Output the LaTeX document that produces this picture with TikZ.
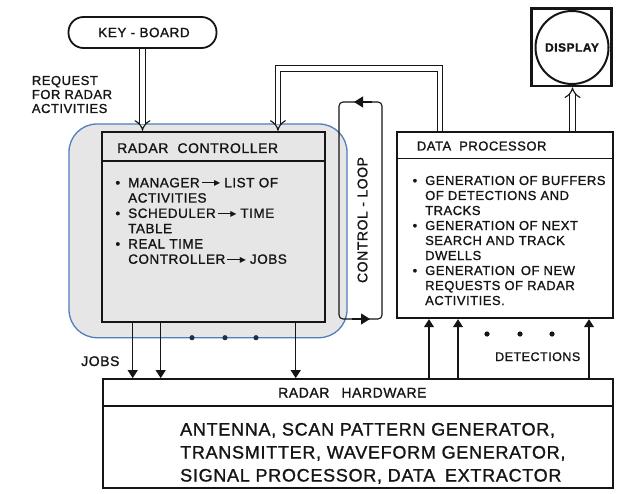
\documentclass[tikz,border=0pt]{standalone}
\usepackage{fontspec}
\setmainfont{Liberation Sans}[LetterSpace=4,FakeBold=1.2]
\newfontfamily\dejavu{DejaVu Sans}
\usetikzlibrary{arrows.meta}
\definecolor{hlblue}{HTML}{4F7FBF}
\definecolor{hlgray}{HTML}{E6E6E7}
\definecolor{dotblue}{HTML}{1F2F4F}
\definecolor{ink}{HTML}{151515}
\newcommand\bul{\makebox[0pt][r]{\textbullet\hspace{8pt}}}
\newcommand\larr{\hspace{2pt}\rule[0.3em]{14pt}{1.1pt}\kern-1.5pt\raisebox{0.12em}{\dejavu\fontsize{8}{8}\selectfont ▶}\hspace{4pt}}
\newcommand\fs[1]{\fontsize{#1}{#1}\selectfont}
\begin{document}
\begin{tikzpicture}[x=1pt,y=-1pt,
  box/.style={draw=ink, line width=1.8pt, inner sep=0pt},
  conn/.style={draw=ink, line width=1.1pt, -{Triangle[width=10pt,length=8pt]}},
  looptip/.style={draw=ink, line width=1.1pt, -{Triangle[width=11pt,length=9pt]}},
  dbl/.style={draw=ink, double=white, double distance=4.5pt, line width=1.1pt, -{Implies}},
  lab/.style={inner sep=0pt, anchor=base west, text=ink},
  divline/.style={draw=ink, line width=1.5pt},
]
\fill[white] (0,0) rectangle (617,494);
\path[use as bounding box] (0,0) rectangle (617,494);

% keyboard
\node[box, rounded corners=15pt, minimum width=148pt, minimum height=31pt,
      font=\fs{13.5}, text=ink] (kb) at (142.5,32.5) {\hspace{3pt}KEY - BOARD};

% request text
\node[lab, font=\fs{13}] (rq1) at (31.7,85) {REQUEST};
\node[lab, font=\fs{13}] (rq2) at (31.7,99) {FOR RADAR};
\node[lab, font=\fs{13}] (rq3) at (31.7,113) {ACTIVITIES};

% highlight
\node[draw=hlblue, fill=hlgray, line width=1.3pt, rounded corners=28pt,
      minimum width=278pt, minimum height=213.7pt, inner sep=0pt] (hl) at (208,230.85) {};

% radar controller
\node[box, minimum width=223.3pt, minimum height=190.3pt] (rc) at (213.35,226.85) {};
\draw[divline] ([yshift=-30pt]rc.north west) -- ([yshift=-30pt]rc.north east);
\node[lab, font=\fs{14}] (rct) at (117,153) {RADAR\hspace{9pt}CONTROLLER};
\foreach \t [count=\i from 0] in {{\bul MANAGER\larr LIST OF},{ACTIVITIES},{\bul SCHEDULER\larr TIME},{TABLE},{\bul REAL TIME},{CONTROLLER\larr JOBS}}
  \node[lab, font=\fs{13.5}] (ct\i) at (128,{187.3+15.3*\i}) {\t};

% data processor
\node[box, fill=white, minimum width=216.6pt, minimum height=186.6pt] (dp) at (505,225) {};
\draw[divline] ([yshift=-27.6pt]dp.north west) -- ([yshift=-27.6pt]dp.north east);
\node[lab, font=\fs{13}] (dpt) at (416.7,150.5) {DATA\hspace{8pt}PROCESSOR};
\foreach \t [count=\i from 0] in {{\bul GENERATION OF BUFFERS},{OF DETECTIONS AND},{TRACKS},{\bul GENERATION OF NEXT},{SEARCH AND TRACK},{DWELLS},{\bul GENERATION\hspace{6pt}OF NEW},{REQUESTS OF RADAR},{ACTIVITIES.}}
  \node[lab, font=\fs{13}] (dt\i) at (425,{185+15*\i}) {\t};

% radar hardware
\node[box, fill=white, minimum width=510pt, minimum height=109pt] (rh) at (358,433.5) {};
\draw[divline] ([yshift=-28pt]rh.north west) -- ([yshift=-28pt]rh.north east);
\node[lab, font=\fs{14}] (rht) at (278,397.5) {RADAR\hspace{12pt}HARDWARE};
\foreach \t [count=\i from 0] in {{ANTENNA, SCAN PATTERN GENERATOR,},{TRANSMITTER, WAVEFORM GENERATOR,},{SIGNAL PROCESSOR, DATA\hspace{4pt} EXTRACTOR}}
  \node[lab, font=\fs{18}] (hw\i) at (180,{435.5+23*\i}) {\t};

% display
\node[box, line width=2.7pt, minimum width=80pt, minimum height=77.7pt] (dsq) at (571.7,47.15) {};
\node[draw=ink, circle, line width=2pt, minimum size=73pt, inner sep=0pt,
      font=\bfseries\fs{12}, text=ink] (dc) at (572,47.5) {DISPLAY};

% double arrows
\draw[dbl] (kb.south) -- (kb.south |- rc.north);
\coordinate (pa) at ([xshift=-65pt]dp.north);
\coordinate (pb) at ([xshift=64.6pt]rc.north);
\coordinate (ptop) at (0,68.5);
\draw[dbl] (pa) -- (pa |- ptop) -- (pb |- ptop) -- (pb);
\coordinate (pc) at ([xshift=67.5pt]dp.north);
\draw[dbl] (pc) -- (pc |- dsq.south);

% control loop
\coordinate (la) at (382,319);
\coordinate (lb) at (382,102);
\coordinate (lc) at (339,102);
\coordinate (ld) at (339,319);
\draw[draw=ink, line width=1.1pt, rounded corners=4pt]
  (la) -- (lb) -- (lc) -- (ld) -- cycle;
\coordinate (lt1) at (372,102);
\coordinate (lt2) at (354,102);
\coordinate (lb1) at (352,319);
\coordinate (lb2) at (370,319);
\draw[looptip] (lt1) -- (lt2);
\draw[looptip] (lb1) -- (lb2);
\node[font=\fs{14}, text=ink, rotate=90, inner sep=0pt] (cl) at (362.5,220) {CONTROL - LOOP};

% jobs arrows
\foreach \x [count=\i] in {132.7,160.7,295.7} {
  \coordinate (j\i) at (\x,0);
  \draw[conn] (j\i |- rc.south) -- (j\i |- rh.north);
}
\node[lab, font=\fs{14}] (jobs) at (81,366) {JOBS};

% detection arrows
\foreach \x [count=\i] in {429,458,589} {
  \coordinate (d\i) at (\x,0);
  \draw[conn] (d\i |- rh.north) -- (d\i |- dp.south);
}
\node[lab, font=\fs{12.5}] (det) at (495,361) {DETECTIONS};

% dots
\foreach \x [count=\i] in {192,225,256}
  \fill[dotblue] (\x,337.7) circle[radius=2.6pt];
\foreach \x [count=\i] in {487,520,552}
  \fill[ink] (\x,334) circle[radius=2.6pt];
\end{tikzpicture}
\end{document}
